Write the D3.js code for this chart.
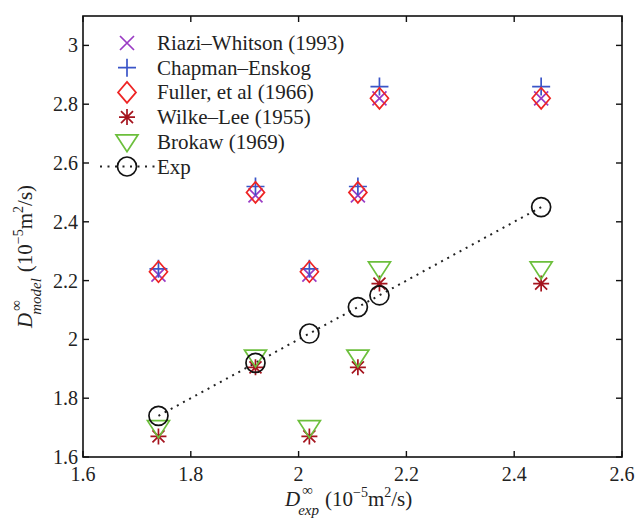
<!DOCTYPE html>
<html lang="en">
<head>
  <meta charset="UTF-8">
  <title>Diffusion coefficients: model vs experiment</title>
  <style>
    body { margin: 0; background: #fff; }
    svg { display: block; font-family: "Liberation Serif", "DejaVu Serif", serif; }
  </style>
</head>
<body>
  <svg id="chart" width="635" height="522"></svg>

  <script src="https://d3js.org/d3.v7.min.js"></script>
  <script>
    // experimental diffusivities (x axis), 1e-5 m^2/s
    const dExp = [1.74, 1.92, 2.02, 2.11, 2.15, 2.45];

    // model predictions at each dExp
    const riazi    = [2.22, 2.49, 2.22, 2.49, 2.82, 2.82];
    const chapman  = [2.24, 2.52, 2.24, 2.52, 2.86, 2.86];
    const fuller   = [2.23, 2.50, 2.23, 2.50, 2.82, 2.82];
    const wilke    = [1.67, 1.905, 1.67, 1.905, 2.19, 2.19];
    const brokaw   = [1.70, 1.94, 1.70, 1.94, 2.24, 2.24];
    const expVals  = [1.74, 1.92, 2.02, 2.11, 2.15, 2.45];

    const xTicks = [1.6, 1.8, 2.0, 2.2, 2.4, 2.6];
    const yTicks = [1.6, 1.8, 2.0, 2.2, 2.4, 2.6, 2.8, 3.0];

    const svg = d3.select("#chart");
    const mLeft = 83, mRight = 622, mTop = 16, mBottom = 457;

    const x = d3.scaleLinear().domain([1.6, 2.6]).range([mLeft, mRight]);
    const y = d3.scaleLinear().domain([1.6, 3.1]).range([mBottom, mTop]);

    // marker shapes, stroked only (matlab style)
    const shapes = {
      x:       "M-7,-7L7,7M-7,7L7,-7",
      plus:    "M-9,0H9M0,-9V9",
      diamond: "M0,-10.5L9,0L0,10.5L-9,0Z",
      star:    "M-8,0H8M0,-8V8M-6,-6L6,6M-6,6L6,-6",
      tri:     "M-11,-7H11L0,10Z"
    };

    const series = [
      { name: "Riazi\u2013Whitson (1993)", vals: riazi,   shape: "x",       color: "#9a3cc4" },
      { name: "Chapman\u2013Enskog",       vals: chapman, shape: "plus",    color: "#3a55c8" },
      { name: "Fuller, et al (1966)",      vals: fuller,  shape: "diamond", color: "#ee2424" },
      { name: "Wilke\u2013Lee (1955)",     vals: wilke,   shape: "star",    color: "#a5141e" },
      { name: "Brokaw (1969)",             vals: brokaw,  shape: "tri",     color: "#6cbf3c" },
      { name: "Exp",                       vals: expVals, shape: "circle",  color: "#111" }
    ];

    // axes box
    svg.append("rect")
      .attr("x", mLeft).attr("y", mTop)
      .attr("width", mRight - mLeft).attr("height", mBottom - mTop)
      .attr("fill", "none").attr("stroke", "#111").attr("stroke-width", 1.6);

    const tickLen = 6;
    const axisG = svg.append("g").attr("stroke", "#111").attr("stroke-width", 1.4);
    xTicks.forEach(t => {
      axisG.append("line").attr("x1", x(t)).attr("x2", x(t)).attr("y1", mBottom).attr("y2", mBottom - tickLen);
      axisG.append("line").attr("x1", x(t)).attr("x2", x(t)).attr("y1", mTop).attr("y2", mTop + tickLen);
    });
    yTicks.forEach(t => {
      axisG.append("line").attr("y1", y(t)).attr("y2", y(t)).attr("x1", mLeft).attr("x2", mLeft + tickLen);
      axisG.append("line").attr("y1", y(t)).attr("y2", y(t)).attr("x1", mRight).attr("x2", mRight - tickLen);
    });

    const fmt = d => d3.format("~g")(d);
    svg.append("g").selectAll("text").data(xTicks).join("text")
      .attr("x", d => x(d)).attr("y", 481)
      .attr("text-anchor", "middle").attr("font-size", 20).attr("fill", "#222")
      .text(fmt);
    svg.append("g").selectAll("text").data(yTicks).join("text")
      .attr("x", mLeft - 5).attr("y", d => y(d) + 7)
      .attr("text-anchor", "end").attr("font-size", 20).attr("fill", "#222")
      .text(fmt);

    // axis labels: D^inf_sub (10^-5 m^2/s)
    function axisLabel(g, sub) {
      const d = g.append("text").attr("font-size", 21).attr("font-style", "italic").attr("fill", "#222").text("D");
      const w = d.node().getComputedTextLength();
      const inf = g.append("text").attr("x", w + 2).attr("y", -11).attr("font-size", 15).attr("fill", "#222").text("\u221e");
      const s = g.append("text").attr("x", w - 2).attr("y", 9).attr("font-size", 15).attr("font-style", "italic").attr("fill", "#222").text(sub);
      const wNext = Math.max(w + 2 + inf.node().getComputedTextLength(), w - 2 + s.node().getComputedTextLength()) + 6;
      const t = g.append("text").attr("x", wNext).attr("font-size", 21).attr("fill", "#222");
      t.append("tspan").text("(10");
      t.append("tspan").attr("font-size", 14).attr("dy", -9).text("\u22125");
      t.append("tspan").attr("dy", 9).text("m");
      t.append("tspan").attr("font-size", 14).attr("dy", -9).text("2");
      t.append("tspan").attr("dy", 9).text("/s)");
    }
    axisLabel(svg.append("g").attr("transform", "translate(285,506)"), "exp");
    axisLabel(svg.append("g").attr("transform", "translate(32,328) rotate(-90)"), "model");

    // exp dotted line
    const line = d3.line().x(d => x(d[0])).y(d => y(d[1]));
    const expPts = dExp.map((d, i) => [d, expVals[i]]).sort((a, b) => a[0] - b[0]);
    svg.append("path")
      .attr("d", line(expPts))
      .attr("fill", "none").attr("stroke", "#222")
      .attr("stroke-width", 2).attr("stroke-dasharray", "2,5");

    function marker(sel, s) {
      if (s.shape === "circle") {
        sel.append("circle").attr("r", 9.5);
      } else {
        sel.append("path").attr("d", shapes[s.shape]);
      }
    }

    series.forEach(s => {
      const g = svg.append("g")
        .attr("fill", "none").attr("stroke", s.color).attr("stroke-width", 1.7);
      dExp.forEach((d, i) => {
        const m = g.append("g").attr("transform", `translate(${x(d)},${y(s.vals[i])})`);
        marker(m, s);
      });
    });

    // legend
    const legX = 127, legY0 = 43, legStep = 24.7;
    series.forEach((s, i) => {
      const ly = legY0 + i * legStep;
      if (s.shape === "circle") {
        svg.append("line")
          .attr("x1", 100).attr("x2", 155).attr("y1", ly).attr("y2", ly)
          .attr("stroke", "#222").attr("stroke-width", 2).attr("stroke-dasharray", "2,5.5");
      }
      const m = svg.append("g")
        .attr("transform", `translate(${legX},${ly})`)
        .attr("fill", "none")
        .attr("stroke", s.color).attr("stroke-width", 1.7);
      marker(m, s);
      svg.append("text")
        .attr("x", 157).attr("y", ly + 7)
        .attr("font-size", 21).attr("fill", "#222")
        .text(s.name);
    });
  </script>
</body>
</html>
